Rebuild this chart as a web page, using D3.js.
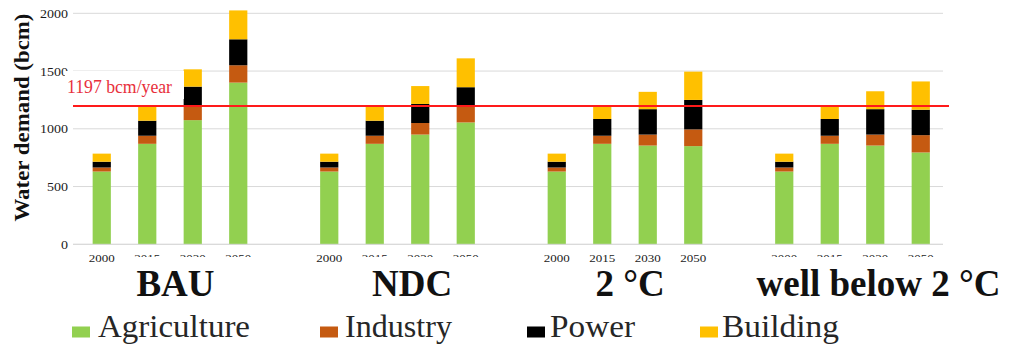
<!DOCTYPE html>
<html>
<head>
<meta charset="utf-8">
<script src="https://cdn.jsdelivr.net/npm/d3@7/dist/d3.min.js"></script>
<style>
  html, body { margin: 0; padding: 0; background: #fff; }
  svg { display: block; }
  svg text { font-family: "Liberation Serif", "Times New Roman", Times, serif; }
</style>
</head>
<body>
<svg id="chart" width="1012" height="346"></svg>
<script>
// Water demand by sector (bcm) under four emission scenarios
const scenarios = ["BAU", "NDC", "2 °C", "well below 2 °C"];
const years = ["2000", "2015", "2030", "2050"];
const sectors = ["Agriculture", "Industry", "Power", "Building"];

// values listed scenario by scenario, years in order
const agriculture = [630, 870, 1075, 1400, 630, 870, 950, 1055, 630, 870, 855, 850, 630, 870, 855, 795];
const industry    = [35, 70, 120, 150, 35, 70, 100, 145, 35, 70, 95, 145, 35, 70, 95, 150];
const power       = [50, 130, 170, 225, 50, 130, 165, 160, 50, 145, 220, 255, 50, 145, 220, 220];
const building    = [70, 120, 150, 250, 70, 125, 155, 250, 70, 110, 150, 245, 70, 115, 155, 245];

const yTicks = [0, 500, 1000, 1500, 2000];
const limitValue = 1197;
const limitLabel = "1197 bcm/year";

const colors = {
  Agriculture: "#92d050",
  Industry: "#c55a11",
  Power: "#000000",
  Building: "#ffc000"
};

const svg = d3.select("#chart");

// slots: four bars per scenario, an empty slot between scenarios
const slots = [];
scenarios.forEach((s, i) => {
  years.forEach(y => slots.push(s + "|" + y));
  if (i < scenarios.length - 1) slots.push("gap" + i);
});

const rows = [];
scenarios.forEach((s, i) => {
  years.forEach((y, j) => {
    const k = i * years.length + j;
    rows.push({
      key: s + "|" + y, scenario: s, year: y,
      Agriculture: agriculture[k], Industry: industry[k],
      Power: power[k], Building: building[k]
    });
  });
});

const plotLeft = 73, plotRight = 943;
const x = d3.scaleBand().domain(slots).range([79, 943.5])
  .paddingInner(0.6).paddingOuter(0.3);
const y = d3.scaleLinear().domain([0, 2000]).range([244.3, 13.3]);

// gridlines
svg.append("g").selectAll("line").data(yTicks).join("line")
  .attr("x1", plotLeft).attr("x2", plotRight)
  .attr("y1", d => y(d)).attr("y2", d => y(d))
  .attr("stroke", "#d9d9d9").attr("stroke-width", 1);

// y axis tick labels
const yAxis = svg.append("g").attr("transform", `translate(68,0)`)
  .call(d3.axisLeft(y).tickValues(yTicks).tickFormat(d3.format("d"))
    .tickSize(0).tickPadding(0));
yAxis.attr("font-family", null);
yAxis.select(".domain").remove();
yAxis.selectAll("text")
  .attr("font-size", 11.5).attr("fill", "#1a1a1a")
  .attr("dy", "0.35em")
  .each(function(d) {
    const w = String(d).length * 7;
    d3.select(this).attr("textLength", w).attr("lengthAdjust", "spacingAndGlyphs");
  });

// stacked bars
const stack = d3.stack().keys(sectors);
const series = stack(rows);
svg.append("g").selectAll("g").data(series).join("g")
  .attr("fill", d => colors[d.key])
  .selectAll("rect").data(d => d).join("rect")
  .attr("x", d => x(d.data.key))
  .attr("width", x.bandwidth())
  .attr("y", d => y(d[1]))
  .attr("height", d => y(d[0]) - y(d[1]));

// x axis
const xAxis = svg.append("g").attr("transform", `translate(0,${y(0)})`)
  .call(d3.axisBottom(x).tickValues(rows.map(r => r.key))
    .tickFormat(k => k.split("|")[1]).tickSize(0).tickPadding(10));
xAxis.attr("font-family", null);
xAxis.select(".domain").remove();
svg.append("line").attr("x1", plotLeft).attr("x2", plotRight)
  .attr("y1", y(0)).attr("y2", y(0)).attr("stroke", "#d9d9d9");
xAxis.selectAll("text")
  .attr("font-size", 11).attr("fill", "#1a1a1a")
  .attr("textLength", 26).attr("lengthAdjust", "spacingAndGlyphs");

// scenario labels in white boxes
const groupLayout = [
  { dx: 5.5,  boxL: 125, boxR: 262, boxTop: 257 },
  { dx: 14.7, boxL: 350, boxR: 482, boxTop: 257 },
  { dx: 5.2,  boxL: 580, boxR: 680, boxTop: 266 },
  { dx: 26,   boxL: 752, boxR: 1005, boxTop: 257 }
];
scenarios.forEach((s, i) => {
  const first = x(s + "|" + years[0]);
  const last = x(s + "|" + years[years.length - 1]) + x.bandwidth();
  const cx = (first + last) / 2 + groupLayout[i].dx;
  const g = groupLayout[i];
  svg.append("rect").attr("x", g.boxL).attr("y", g.boxTop)
    .attr("width", g.boxR - g.boxL).attr("height", 300 - g.boxTop).attr("fill", "#fff");
  svg.append("text").attr("x", cx).attr("y", 296)
    .attr("text-anchor", "middle")
    .attr("font-weight", "bold").attr("font-size", 37).attr("fill", "#111")
    .text(s);
});

// limit line
svg.append("line")
  .attr("x1", plotLeft).attr("x2", 949)
  .attr("y1", y(limitValue)).attr("y2", y(limitValue))
  .attr("stroke", "#ff1a1a").attr("stroke-width", 2);

// limit label with white backing, overlapping the 1500 tick
svg.append("rect").attr("x", 65).attr("y", 71).attr("width", 119).attr("height", 28)
  .attr("fill", "#fff");
svg.append("text").attr("x", 67).attr("y", 92.5)
  .attr("font-size", 18).attr("fill", "#e8303c")
  .attr("textLength", 105).attr("lengthAdjust", "spacingAndGlyphs")
  .text(limitLabel);

// y axis title
svg.append("text")
  .attr("transform", `translate(29,117.5) rotate(-90)`)
  .attr("text-anchor", "middle")
  .attr("font-weight", "bold").attr("font-size", 21).attr("fill", "#111")
  .attr("textLength", 208).attr("lengthAdjust", "spacingAndGlyphs")
  .text("Water demand (bcm)");

// legend
const legendLayout = [
  { sx: 72, tx: 98, tw: 152 },
  { sx: 320, tx: 345, tw: 107 },
  { sx: 527, tx: 550, tw: 85 },
  { sx: 700, tx: 722, tw: 117 }
];
sectors.forEach((s, i) => {
  const l = legendLayout[i];
  svg.append("rect").attr("x", l.sx).attr("y", 326.5)
    .attr("width", 18).attr("height", 11).attr("fill", colors[s]);
  svg.append("text").attr("x", l.tx).attr("y", 337)
    .attr("font-size", 31).attr("fill", "#262626")
    .attr("textLength", l.tw).attr("lengthAdjust", "spacingAndGlyphs")
    .text(s);
});
</script>
</body>
</html>
